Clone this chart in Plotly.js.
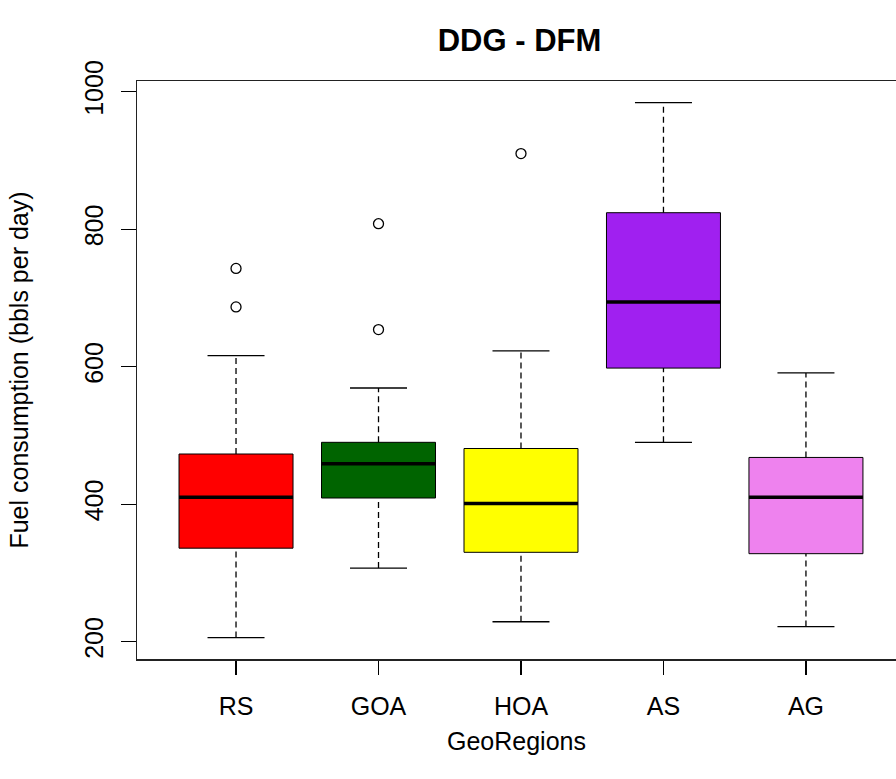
<!DOCTYPE html>
<html>
<head>
<meta charset="utf-8">
<script src="https://cdn.plot.ly/plotly-3.0.1.min.js"></script>
<style>html,body{margin:0;padding:0;background:#fff;}#chart{width:896px;height:779px;}</style>
</head>
<body>
<div id="chart"></div>
<script>
// ---- data ----
var categories = ['RS', 'GOA', 'HOA', 'AS', 'AG'];
var lowerWhisker = [206, 307, 229, 490, 222];
var q1 = [336, 409, 330, 598, 328];
var medians = [410, 459, 401, 694, 410];
var q3 = [473, 490, 481, 824, 468];
var upperWhisker = [616, 569, 623, 984, 591];
var outlierGroup = [0, 0, 1, 1, 2];
var outlierValues = [743, 687, 808, 654, 910];
var fillColors = ['#FF0000', '#006400', '#FFFF00', '#A020F0', '#EE82EE'];
var yTicks = [200, 400, 600, 800, 1000];

// ---- styling ----
var FONT = 'Liberation Sans, Arial, sans-serif';
var BOXW = 0.8, CAPW = 0.4;
var traces = [];

categories.forEach(function (c, i) {
  traces.push({
    type: 'box', name: c, x: [i],
    q1: [q1[i]], median: [medians[i]], q3: [q3[i]],
    lowerfence: [q1[i]], upperfence: [q3[i]],
    width: BOXW, whiskerwidth: 0,
    fillcolor: fillColors[i],
    line: {color: '#000000', width: 1},
    boxpoints: false, hoverinfo: 'skip', showlegend: false
  });
});
categories.forEach(function (c, i) {
  // dashed whiskers
  traces.push({type: 'scatter', mode: 'lines', x: [i, i], y: [q3[i], upperWhisker[i]],
    line: {color: '#000', width: 1.3, dash: '6px,4px'}, showlegend: false, hoverinfo: 'skip'});
  traces.push({type: 'scatter', mode: 'lines', x: [i, i], y: [lowerWhisker[i], q1[i]],
    line: {color: '#000', width: 1.3, dash: '6px,4px'}, showlegend: false, hoverinfo: 'skip'});
  // caps
  traces.push({type: 'scatter', mode: 'lines', x: [i - CAPW / 2, i + CAPW / 2], y: [upperWhisker[i], upperWhisker[i]],
    line: {color: '#000', width: 1.3}, showlegend: false, hoverinfo: 'skip'});
  traces.push({type: 'scatter', mode: 'lines', x: [i - CAPW / 2, i + CAPW / 2], y: [lowerWhisker[i], lowerWhisker[i]],
    line: {color: '#000', width: 1.3}, showlegend: false, hoverinfo: 'skip'});
  // thick median
  traces.push({type: 'scatter', mode: 'lines', x: [i - BOXW / 2, i + BOXW / 2], y: [medians[i], medians[i]],
    line: {color: '#000', width: 3.5}, showlegend: false, hoverinfo: 'skip'});
});
traces.push({
  type: 'scatter', mode: 'markers',
  x: outlierGroup, y: outlierValues,
  marker: {symbol: 'circle-open', size: 10, color: '#000', line: {width: 1.3, color: '#000'}},
  showlegend: false, hoverinfo: 'skip'
});

var layout = {
  width: 896, height: 779,
  margin: {l: 137, r: 0, t: 81, b: 120, pad: 0},
  paper_bgcolor: '#ffffff', plot_bgcolor: '#ffffff',
  showlegend: false,
  font: {family: FONT, color: '#000'},
  title: {text: 'DDG - DFM', xref: 'paper', x: 0.504, xanchor: 'center',
    yref: 'container', y: 0.949, yanchor: 'middle',
    font: {family: FONT, size: 31, weight: 'bold', color: '#000'}},
  xaxis: {
    range: [-0.695, 4.632], tickmode: 'array', tickvals: [0, 1, 2, 3, 4], ticktext: categories,
    showline: true, mirror: true, linecolor: '#222', linewidth: 1.5,
    ticks: 'outside', ticklen: 14, tickwidth: 1.3, tickcolor: '#000',
    showgrid: false, zeroline: false,
    tickfont: {family: FONT, size: 25, color: '#000'}, ticklabelstandoff: 10,
    title: {text: 'GeoRegions', font: {family: FONT, size: 25, color: '#000'}, standoff: 14}
  },
  yaxis: {
    range: [174.8, 1015.6], tickmode: 'array', tickvals: yTicks,
    showline: true, mirror: false, linecolor: '#222', linewidth: 1.5,
    ticks: 'outside', ticklen: 15, tickwidth: 1.3, tickcolor: '#000',
    showgrid: false, zeroline: false, tickangle: -90,
    tickfont: {family: FONT, size: 25, color: '#000'}, ticklabelstandoff: 8,
    title: {text: 'Fuel consumption (bbls per day)', font: {family: FONT, size: 25, color: '#000'}, standoff: 44}
  }
};

Plotly.newPlot('chart', traces, layout, {staticPlot: true, displayModeBar: false});
</script>
</body>
</html>
